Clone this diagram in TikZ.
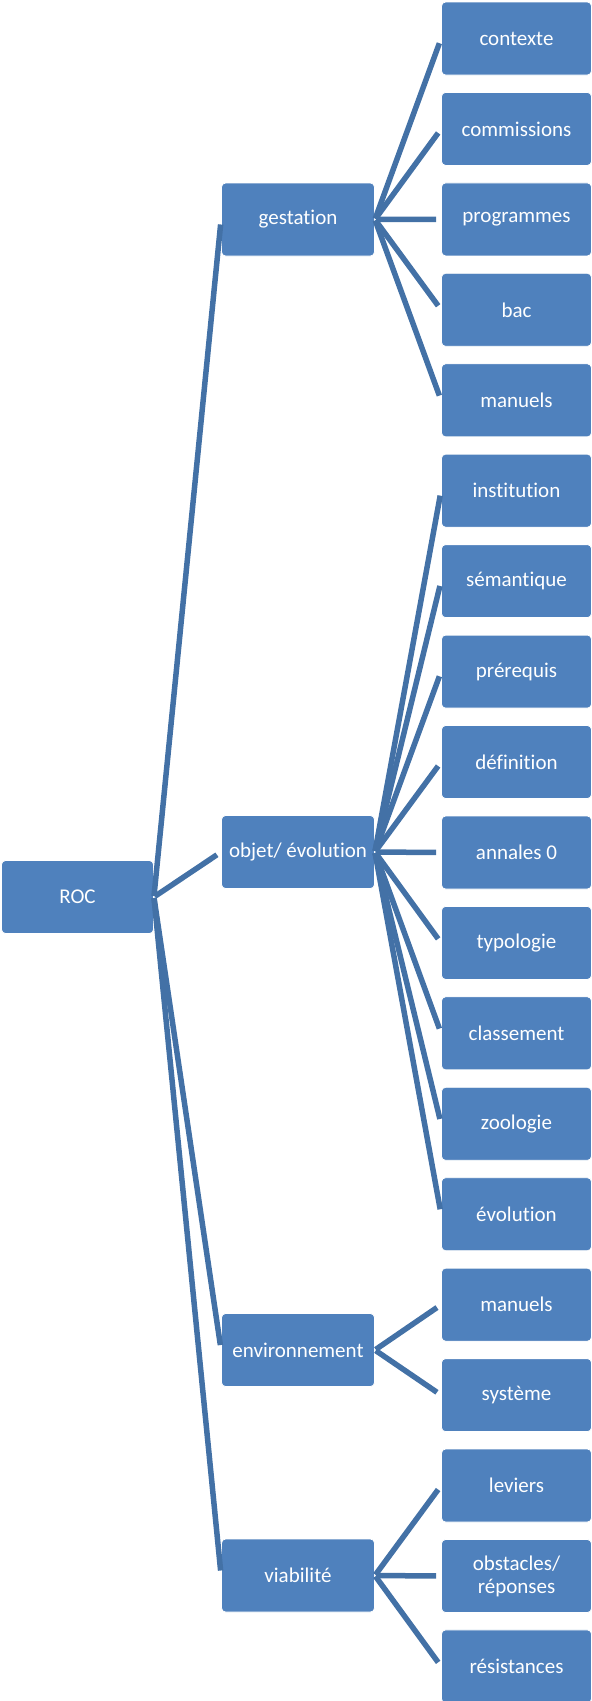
\documentclass[tikz,border=0pt]{standalone}
\usepackage{fontspec}
\setmainfont{Carlito}[Ligatures=NoCommon]
\usepackage{color}
\definecolor{boxblue}{HTML}{4F81BD}
\definecolor{linkblue}{HTML}{4371A6}

\begin{document}
\begin{tikzpicture}
[x=1pt,y=-1pt,
box/.style={rectangle,rounded corners=4pt,draw=white,line width=0.8pt,fill=boxblue,text=white,minimum width=150pt,minimum height=73pt,inner sep=2pt,align=center,font=\fontsize{21}{23}\selectfont},
link/.style={draw=linkblue,line width=5.5pt,shorten >=5pt,shorten <=1pt}]
\useasboundingbox (0,0) rectangle (592,1701);
\node[box,minimum width=152pt] at (77.5,897) (roc) {ROC};
\node[box,minimum width=153pt] at (298,219.5) (gest) {gestation};
\node[box,minimum width=153pt] at (298,852) (obj) {objet/ évolution};
\node[box,minimum width=153pt] at (298,1350) (env) {environnement};
\node[box,minimum width=153pt] at (298,1575.5) (via) {viabilité};
\node[box] at (516.5,38.5) (ctx) {contexte};
\node[box] at (516.5,128.9) (comm) {commissions};
\node[box] at (516.5,219.4) (prog) {programmes};
\node[box] at (516.5,309.8) (bac) {bac};
\node[box] at (516.5,400.3) (man1) {manuels};
\node[box] at (516.5,490.7) (inst) {institution};
\node[box] at (516.5,581.1) (sem) {sémantique};
\node[box] at (516.5,671.6) (prer) {prérequis};
\node[box] at (516.5,762.0) (defi) {définition};
\node[box] at (516.5,852.5) (ann) {annales 0};
\node[box] at (516.5,942.9) (typo) {typologie};
\node[box] at (516.5,1033.3) (clas) {classement};
\node[box] at (516.5,1123.8) (zoo) {zoologie};
\node[box] at (516.5,1214.2) (evol) {évolution};
\node[box] at (516.5,1304.7) (man2) {manuels};
\node[box] at (516.5,1395.1) (sys) {système};
\node[box] at (516.5,1485.5) (lev) {leviers};
\node[box] at (516.5,1576.0) (obst) {obstacles/\\réponses};
\node[box] at (516.5,1666.4) (res) {résistances};
\draw[link] (roc.east) -- (gest.west);
\draw[link] (roc.east) -- (obj.west);
\draw[link] (roc.east) -- (env.west);
\draw[link] (roc.east) -- (via.west);
\draw[link] (gest.east) -- (ctx.west);
\draw[link] (gest.east) -- (comm.west);
\draw[link] (gest.east) -- (prog.west);
\draw[link] (gest.east) -- (bac.west);
\draw[link] (gest.east) -- (man1.west);
\draw[link] (obj.east) -- (inst.west);
\draw[link] (obj.east) -- (sem.west);
\draw[link] (obj.east) -- (prer.west);
\draw[link] (obj.east) -- (defi.west);
\draw[link] (obj.east) -- (ann.west);
\draw[link] (obj.east) -- (typo.west);
\draw[link] (obj.east) -- (clas.west);
\draw[link] (obj.east) -- (zoo.west);
\draw[link] (obj.east) -- (evol.west);
\draw[link] (env.east) -- (man2.west);
\draw[link] (env.east) -- (sys.west);
\draw[link] (via.east) -- (lev.west);
\draw[link] (via.east) -- (obst.west);
\draw[link] (via.east) -- (res.west);
\end{tikzpicture}
\end{document}
